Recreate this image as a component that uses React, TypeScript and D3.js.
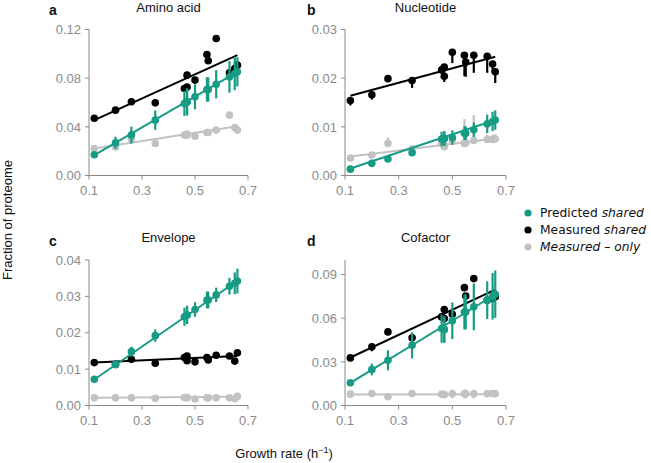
import React from 'react';
import * as d3 from 'd3';

// growth rates (1/h) of the conditions, shared by every panel
const growth = [0.12, 0.2, 0.26, 0.35, 0.46, 0.47, 0.47, 0.5, 0.545, 0.55, 0.58, 0.63, 0.65, 0.66];
const fitX = [0.12, 0.66];
const xTicks = [0.1, 0.3, 0.5, 0.7];

// a - Amino acid
const predA = [0.017, 0.0268, 0.0332, 0.0455, 0.0592, 0.0605, 0.0605, 0.0647, 0.0707, 0.0707, 0.075, 0.081, 0.0838, 0.0852];
const predErrA = [0.002, 0.005, 0.007, 0.008, 0.0103, 0.011, 0.011, 0.0103, 0.01, 0.01, 0.0116, 0.013, 0.0137, 0.012];
const measA = [0.047, 0.0537, 0.0606, 0.0597, 0.0715, 0.0825, 0.0728, 0.0784, 0.0995, 0.0943, 0.1126, 0.0844, 0.088, 0.0907];
const onlyA = [0.0222, 0.0235, 0.0300, 0.0263, 0.0332, 0.0332, 0.034, 0.0323, 0.0353, 0.0353, 0.0373, 0.0496, 0.0395, 0.0373];
const predFitA = [0.0167, 0.0852];
const measFitA = [0.0455, 0.099];
const onlyFitA = [0.0222, 0.0405];
const yTicksA = [0, 0.04, 0.08, 0.12];

// b - Nucleotide
const predB = [0.0013, 0.0025, 0.0034, 0.0047, 0.0075, 0.0076, 0.0076, 0.0078, 0.0087, 0.0087, 0.0094, 0.0106, 0.0111, 0.0114];
const predErrB = [0.0003, 0.0004, 0.0004, 0.0005, 0.0015, 0.0015, 0.0015, 0.0015, 0.0014, 0.0014, 0.0015, 0.0019, 0.002, 0.002];
const measB = [0.0154, 0.0166, 0.0199, 0.0195, 0.0217, 0.0223, 0.0204, 0.0253, 0.0247, 0.0233, 0.0247, 0.0245, 0.0229, 0.0213];
const measErrB: [number, number][] = [[0.001, 0], [0.001, 0], [0, 0], [0.0015, 0], [0.0005, 0], [0.0012, 0], [0.0012, 0], [0.0022, 0], [0.0043, 0], [0.003, 0], [0.0036, 0], [0.0034, 0], [0.0018, 0], [0.0023, 0]];
const onlyB = [0.0036, 0.0042, 0.0066, 0.0055, 0.0066, 0.0059, 0.0062, 0.0072, 0.0066, 0.0067, 0.0072, 0.0074, 0.0074, 0.0075];
const onlyErrB: [number, number][] = [[0, 0.0005], [0, 0.0005], [0, 0.0012], [0, 0.0004], [0, 0.0015], [0, 0.003], [0, 0.002], [0, 0.0015], [0, 0.005], [0, 0.003], [0, 0.0052], [0, 0.001], [0, 0.001], [0, 0.001]];
const predFitB = [0.00144, 0.0114];
const measFitB = [0.0164, 0.0244];
const onlyFitB = [0.0039, 0.0076];
const yTicksB = [0, 0.01, 0.02, 0.03];

// c - Envelope
const predC = [0.0072, 0.0113, 0.0148, 0.0192, 0.0244, 0.0249, 0.0249, 0.0264, 0.029, 0.029, 0.0304, 0.0328, 0.0336, 0.0342];
const predErrC = [0.0005, 0.0008, 0.0014, 0.0017, 0.0025, 0.0025, 0.0025, 0.002, 0.0023, 0.0023, 0.002, 0.0023, 0.003, 0.0034];
const measC = [0.0118, 0.0113, 0.0127, 0.0116, 0.0132, 0.0136, 0.0123, 0.012, 0.0132, 0.0125, 0.0138, 0.0136, 0.0122, 0.0145];
const onlyC = [0.0021, 0.0021, 0.0021, 0.002, 0.0022, 0.0022, 0.0021, 0.0018, 0.0021, 0.0021, 0.0021, 0.0021, 0.0019, 0.0025];
const predFitC = [0.00715, 0.0343];
const measFitC = [0.0118, 0.0136];
const onlyFitC = [0.0021, 0.0024];
const yTicksC = [0, 0.01, 0.02, 0.03, 0.04];

// d - Cofactor
const predD = [0.0156, 0.0247, 0.0311, 0.0414, 0.0529, 0.0522, 0.0522, 0.0582, 0.0643, 0.0643, 0.0678, 0.0724, 0.0751, 0.0765];
const predErrD = [0.001, 0.004, 0.0069, 0.009, 0.0097, 0.009, 0.009, 0.0126, 0.012, 0.012, 0.016, 0.013, 0.016, 0.0163];
const measD = [0.0327, 0.0403, 0.0506, 0.0465, 0.0609, 0.066, 0.0598, 0.0627, 0.081, 0.0753, 0.0872, 0.0724, 0.0735, 0.0747];
const measErrD: [number, number][] = [[0, 0], [0.003, 0], [0, 0], [0.003, 0], [0, 0], [0.002, 0], [0.002, 0], [0.002, 0], [0, 0], [0.002, 0], [0, 0], [0, 0], [0, 0], [0, 0]];
const onlyD = [0.0078, 0.0082, 0.006, 0.0082, 0.0078, 0.0075, 0.0075, 0.008, 0.008, 0.008, 0.008, 0.008, 0.0082, 0.008];
const onlyErrD: [number, number][] = [[0.0015, 0.0015], [0.002, 0.002], [0.001, 0.001], [0.002, 0.002], [0.002, 0.002], [0.002, 0.002], [0.002, 0.002], [0.003, 0.003], [0.003, 0.003], [0.003, 0.003], [0.003, 0.003], [0.002, 0.002], [0.002, 0.002], [0.002, 0.002]];
const predFitD = [0.0156, 0.0763];
const measFitD = [0.033, 0.0797];
const onlyFitD = [0.0076, 0.0078];
const yTicksD = [0, 0.03, 0.06, 0.09];

const TEAL = '#169b84';
const BLACK = '#000000';
const GRAY = '#c2c2c2';
const AXIS = '#8a8a8a';
const FONT = '"Liberation Sans", Arial, sans-serif';

type Panel = {
  letter: string;
  title: string;
  left: number;
  right: number;
  top: number;
  bottom: number;
  yMax: number;
  yTicks: number[];
  pred: number[];
  predErr: number[];
  meas: number[];
  measErr: [number, number][];
  only: number[];
  onlyErr: [number, number][];
  predFit: number[];
  measFit: number[];
  onlyFit: number[];
};

const panels: Panel[] = [
  { letter: 'a', title: 'Amino acid', left: 89, right: 248, top: 29.5, bottom: 175.5, yMax: 0.12, yTicks: yTicksA,
    pred: predA, predErr: predErrA, meas: measA, measErr: [], only: onlyA, onlyErr: [],
    predFit: predFitA, measFit: measFitA, onlyFit: onlyFitA },
  { letter: 'b', title: 'Nucleotide', left: 345, right: 506, top: 29.5, bottom: 175.5, yMax: 0.03, yTicks: yTicksB,
    pred: predB, predErr: predErrB, meas: measB, measErr: measErrB, only: onlyB, onlyErr: onlyErrB,
    predFit: predFitB, measFit: measFitB, onlyFit: onlyFitB },
  { letter: 'c', title: 'Envelope', left: 89, right: 248, top: 260, bottom: 405.5, yMax: 0.04, yTicks: yTicksC,
    pred: predC, predErr: predErrC, meas: measC, measErr: [], only: onlyC, onlyErr: [],
    predFit: predFitC, measFit: measFitC, onlyFit: onlyFitC },
  { letter: 'd', title: 'Cofactor', left: 345, right: 506, top: 260, bottom: 405.5, yMax: 0.1, yTicks: yTicksD,
    pred: predD, predErr: predErrD, meas: measD, measErr: measErrD, only: onlyD, onlyErr: onlyErrD,
    predFit: predFitD, measFit: measFitD, onlyFit: onlyFitD },
];

const R = 3.8;

const PanelChart = ({ p }: { p: Panel }) => {
  const x = d3.scaleLinear().domain([0.1, 0.7]).range([p.left, p.right]);
  const y = d3.scaleLinear().domain([0, p.yMax]).range([p.bottom, p.top]);
  const line = d3.line<number>().x((_, i) => x(fitX[i])).y(d => y(d));

  // one series: fit line, error bars, dots
  const series = (vals: number[], fit: number[], color: string, sym: number[] | null, err: [number, number][]) => (
    <g>
      <path d={line(fit) || ''} fill="none" stroke={color} strokeWidth={2} />
      {sym && vals.map((v, i) => (
        <line key={'s' + i} x1={x(growth[i])} x2={x(growth[i])} y1={y(v - sym[i])} y2={y(v + sym[i])}
          stroke={color} strokeWidth={2.2} />
      ))}
      {err.map((e, i) => (e[0] > 0 || e[1] > 0) ? (
        <line key={'e' + i} x1={x(growth[i])} x2={x(growth[i])} y1={y(vals[i] - e[0])} y2={y(vals[i] + e[1])}
          stroke={color} strokeWidth={2.2} />
      ) : null)}
      {vals.map((v, i) => (
        <circle key={'c' + i} cx={x(growth[i])} cy={y(v)} r={R} fill={color} />
      ))}
    </g>
  );

  return (
    <g>
      <text x={(p.left + p.right) / 2} y={p.top - 18} textAnchor="middle" fontSize={13} fontFamily={FONT} fill="#111">{p.title}</text>
      <text x={49} y={p.top - 14.5} fontSize={14} fontWeight="bold" fontFamily={FONT} fill="#111"
        transform={p.left > 200 ? `translate(258,0)` : undefined}>{p.letter}</text>

      {/* y axis */}
      <line x1={p.left} x2={p.left} y1={p.top} y2={p.bottom} stroke={AXIS} strokeWidth={1} />
      {p.yTicks.map(t => (
        <g key={t}>
          <line x1={p.left - 4} x2={p.left} y1={y(t)} y2={y(t)} stroke={AXIS} strokeWidth={1} />
          <text x={p.left - 8} y={y(t)} dy="0.36em" textAnchor="end" fontSize={13} fontFamily={FONT} fill={AXIS}>
            {d3.format('.2f')(t)}
          </text>
        </g>
      ))}
      {/* x axis */}
      <line x1={p.left} x2={p.right} y1={p.bottom} y2={p.bottom} stroke={AXIS} strokeWidth={1} />
      {xTicks.map(t => (
        <g key={t}>
          <line x1={x(t)} x2={x(t)} y1={p.bottom} y2={p.bottom + 4} stroke={AXIS} strokeWidth={1} />
          <text x={x(t)} y={p.bottom + 19.5} textAnchor="middle" fontSize={13} fontFamily={FONT} fill={AXIS}>
            {d3.format('.1f')(t)}
          </text>
        </g>
      ))}

      {series(p.only, p.onlyFit, GRAY, null, p.onlyErr)}
      {series(p.meas, p.measFit, BLACK, null, p.measErr)}
      {series(p.pred, p.predFit, TEAL, p.predErr, [])}
    </g>
  );
};

const legendItems = [
  { color: TEAL, plain: 'Predicted ', ital: 'shared' },
  { color: BLACK, plain: 'Measured ', ital: 'shared' },
  { color: GRAY, plain: '', ital: 'Measured \u2013 only' },
];

export default function App() {
  return (
    <svg width={651} height={463} style={{ position: 'absolute', left: 0, top: 0, background: '#fff' }}>
      {panels.map(p => <PanelChart key={p.letter} p={p} />)}

      <text transform="translate(12,220) rotate(-90)" textAnchor="middle" fontSize={13} fontFamily={FONT} fill="#111">
        Fraction of proteome
      </text>
      <text x={284} y={458} textAnchor="middle" fontSize={13} fontFamily={FONT} fill="#111">
        Growth rate (h<tspan fontSize={9} dy={-5}>{'\u22121'}</tspan><tspan dy={5}>)</tspan>
      </text>

      {legendItems.map((it, i) => (
        <g key={i} transform={`translate(528,${213 + i * 17})`}>
          <circle r={3.6} fill={it.color} />
          <text x={12} dy="0.36em" fontSize={12.3} fontFamily='"DejaVu Sans", sans-serif' fill="#111">
            {it.plain}<tspan fontStyle="italic">{it.ital}</tspan>
          </text>
        </g>
      ))}
    </svg>
  );
}
